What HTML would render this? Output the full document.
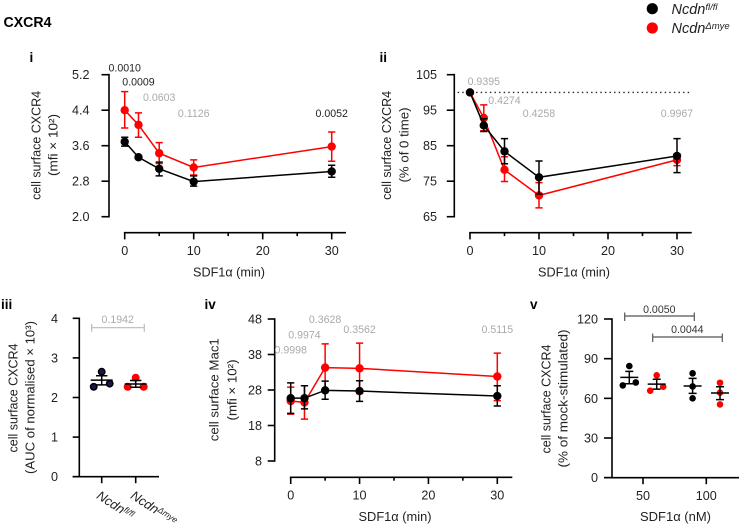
<!DOCTYPE html>
<html lang="en">
<head>
<meta charset="utf-8">
<title>CXCR4</title>
<style>
html,body{margin:0;padding:0;background:#fff;}
svg{display:block;font-family:"Liberation Sans",sans-serif;fill:#222;}
.t{font-size:13px;text-anchor:middle;}
.pl{font-size:13.5px;font-weight:bold;fill:#000;}
</style>
</head>
<body>
<svg id="fig" xmlns="http://www.w3.org/2000/svg" width="740" height="524" viewBox="0 0 740 524">
  <text x="3.5" y="27" font-size="14.5" font-weight="bold" fill="#000" textLength="48" lengthAdjust="spacingAndGlyphs">CXCR4</text>

  <g>
    <circle cx="652.3" cy="8.7" r="5.6" fill="#000"/>
    <text x="671.5" y="14" font-size="14.5" font-style="italic" fill="#222">Ncdn<tspan dy="-4" font-size="9.5">fl/fl</tspan></text>
    <circle cx="652.3" cy="28" r="5.6" fill="#f00"/>
    <text x="671.5" y="33" font-size="14.5" font-style="italic" fill="#222">Ncdn<tspan dy="-4" font-size="9.5">Δmye</tspan></text>
  </g>

  <text class="pl" x="29.5" y="62">i</text>
  <text class="pl" x="379.5" y="62">ii</text>
  <text class="pl" x="1" y="309">iii</text>
  <text class="pl" x="204.5" y="309">iv</text>
  <text class="pl" x="530" y="309">v</text>

  <text class="t" transform="translate(40.5,145.4) rotate(-90)" textLength="109" lengthAdjust="spacingAndGlyphs">cell surface CXCR4</text>
  <text class="t" transform="translate(57.5,145) rotate(-90)" textLength="62" lengthAdjust="spacingAndGlyphs">(mfi × 10²)</text>
  <text class="t" x="229" y="276.5" textLength="72" lengthAdjust="spacingAndGlyphs">SDF1α (min)</text>

  <text class="t" transform="translate(391,145.4) rotate(-90)" textLength="109" lengthAdjust="spacingAndGlyphs">cell surface CXCR4</text>
  <text class="t" transform="translate(408.5,145) rotate(-90)" textLength="75" lengthAdjust="spacingAndGlyphs">(% of 0 time)</text>
  <text class="t" x="574" y="276.5" textLength="72" lengthAdjust="spacingAndGlyphs">SDF1α (min)</text>

  <text class="t" transform="translate(17.5,398) rotate(-90)" textLength="109" lengthAdjust="spacingAndGlyphs">cell surface CXCR4</text>
  <text class="t" transform="translate(34.5,397.5) rotate(-90)" textLength="153" lengthAdjust="spacingAndGlyphs">(AUC of normalised × 10³)</text>

  <text class="t" transform="translate(218.5,389.7) rotate(-90)" textLength="103" lengthAdjust="spacingAndGlyphs">cell surface Mac1</text>
  <text class="t" transform="translate(236.5,390) rotate(-90)" textLength="61" lengthAdjust="spacingAndGlyphs">(mfi × 10²)</text>
  <text class="t" x="395" y="521" textLength="73" lengthAdjust="spacingAndGlyphs">SDF1α (min)</text>

  <text class="t" transform="translate(550.5,399) rotate(-90)" textLength="109" lengthAdjust="spacingAndGlyphs">cell surface CXCR4</text>
  <text class="t" transform="translate(567.5,398.5) rotate(-90)" textLength="138" lengthAdjust="spacingAndGlyphs">(% of mock-stimulated)</text>
  <text class="t" x="675.5" y="521" textLength="71" lengthAdjust="spacingAndGlyphs">SDF1α (nM)</text>
</svg>

<script>
// ---------- shared time axis ----------
const timesMin = [0, 2, 5, 10, 30];
const xMajorTicks = [0, 10, 20, 30];
const xMinorTicks = [5, 15, 25];

// ---------- panel i ----------
const iYTicks = ['5.2', '4.4', '3.6', '2.8', '2.0'];
const iControlMean = [3.69, 3.34, 3.08, 2.79, 3.02];
const iControlHigh = [3.79, 3.37, 3.23, 2.92, 3.16];
const iControlLow = [3.59, 3.31, 2.92, 2.69, 2.89];
const iKnockoutMean = [4.40, 4.07, 3.43, 3.11, 3.58];
const iKnockoutHigh = [4.82, 4.34, 3.67, 3.28, 3.91];
const iKnockoutLow = [4.00, 3.79, 3.20, 2.94, 3.25];
const iPValues = ['0.0010', '0.0009', '0.0603', '0.1126', '0.0052'];
const iPTimes = [0, 2, 5, 10, 30];
const iPLevels = [5.358, 5.042, 4.69, 4.33, 4.33];

// ---------- panel ii ----------
const iiYTicks = ['105', '95', '85', '75', '65'];
const iiControlMean = [100, 90.7, 83.4, 76.1, 82.1];
const iiControlHigh = [100, 92.6, 87, 80.7, 87];
const iiControlLow = [100, 89, 79.9, 71.4, 77.4];
const iiKnockoutMean = [100, 92.8, 78.2, 71, 81];
const iiKnockoutHigh = [100, 96.5, 81.9, 74.6, 82.7];
const iiKnockoutLow = [100, 89.2, 74.9, 67.5, 79.4];
const iiPValues = ['0.9395', '0.4274', '0.4258', '0.9967'];
const iiPTimes = [2, 5, 10, 30];
const iiPLevels = [103.2, 97.8, 94.2, 94.2];
const iiReference = 100;

// ---------- panel iii ----------
const iiiYTicks = ['4', '3', '2', '1', '0'];
const iiiCategories = ['fl/fl', 'Δmye'];
const iiiControlPoints = [2.65, 2.27, 2.35];
const iiiKnockoutPoints = [2.5, 2.27, 2.27];
const iiiMeans = [2.44, 2.34];
const iiiHighs = [2.55, 2.43];
const iiiLows = [2.32, 2.26];
const iiiP = '0.1942';

// ---------- panel iv ----------
const ivYTicks = ['48', '38', '28', '18', '8'];
const ivControlMean = [25.7, 25.7, 27.9, 27.7, 26.3];
const ivControlHigh = [30, 29.2, 30.5, 30.6, 29.2];
const ivControlLow = [21.4, 22.7, 25.4, 24.8, 23.5];
const ivKnockoutMean = [24.9, 24.5, 34.3, 34.1, 31.8];
const ivKnockoutHigh = [28.8, 29.2, 41, 41.2, 38.4];
const ivKnockoutLow = [21.2, 19.8, 28, 27, 25];
const ivPValues = ['0.9998', '0.9974', '0.3628', '0.3562', '0.5115'];
const ivPTimes = [0, 2, 5, 10, 30];
const ivPLevels = [39.4, 43.6, 47.9, 45.2, 45.2];

// ---------- panel v ----------
const vYTicks = ['120', '90', '60', '30', '0'];
const vDoses = [50, 100];
const vControlPoints = [[84.4, 69.8, 72], [78.9, 69, 60]];
const vKnockoutPoints = [[77.4, 65.8, 68.8], [71.8, 64.3, 55.4]];
const vControlMean = [75.9, 69.3];
const vControlHigh = [80.4, 75.1];
const vControlLow = [71, 63.8];
const vKnockoutMean = [70.8, 64];
const vKnockoutHigh = [74.4, 68.8];
const vKnockoutLow = [67, 59];
const vP = ['0.0050', '0.0044'];

// ---------- helpers ----------
const SVGNS = 'http://www.w3.org/2000/svg';
const fig = document.getElementById('fig');
const BLACK = '#000';
const RED = '#f00';
const GREY = '#aaa';
const AXIS_W = 1.6;
const TICK_FONT = 12.6;
const P_FONT = 10.6;

function make(tag, attrs, parent) {
  const e = document.createElementNS(SVGNS, tag);
  for (const k in attrs) e.setAttribute(k, attrs[k]);
  parent.appendChild(e);
  return e;
}
function linear(d0, d1, r0, r1) {
  return v => r0 + (v - d0) * (r1 - r0) / (d1 - d0);
}
function line(parent, x1, y1, x2, y2, stroke, w) {
  return make('line', {x1: x1, y1: y1, x2: x2, y2: y2, stroke: stroke, 'stroke-width': w}, parent);
}
function label(parent, x, y, str, anchor, size, color) {
  const t = make('text', {x: x, y: y, 'text-anchor': anchor, 'font-size': size, fill: color, dy: '.36em'}, parent);
  t.textContent = str;
  return t;
}
function panelGroup(name) {
  const g = make('g', {}, fig);
  
  
  return g;
}
function drawYAxis(g, panel, axisX, yScale, ticks, tickLen, labelEnd) {
  const vals = ticks.map(Number);
  const top = Math.max.apply(null, vals), bottom = Math.min.apply(null, vals);
  const ax = line(g, axisX, yScale(top) - 0.8, axisX, yScale(bottom) + 0.8, BLACK, AXIS_W);
  
  
  ticks.forEach(function (tk) {
    const y = yScale(Number(tk));
    const m = line(g, axisX - tickLen, y, axisX, y, BLACK, AXIS_W);
    
    
    const l = label(g, labelEnd, y, tk, 'end', TICK_FONT, '#222');
    
    
  });
}
function drawTimeAxis(g, panel, axisY, xScale, endX) {
  const ax = line(g, xScale(0) - 0.8, axisY, endX, axisY, BLACK, AXIS_W);
  
  
  xMajorTicks.forEach(function (v) {
    const m = line(g, xScale(v), axisY, xScale(v), axisY + 6.7, BLACK, AXIS_W);
    
    
    const l = label(g, xScale(v), axisY + 17.6, String(v), 'middle', TICK_FONT, '#222');
    
    
  });
  xMinorTicks.forEach(function (v) {
    const m = line(g, xScale(v), axisY, xScale(v), axisY + 3.4, BLACK, AXIS_W);
    
    
  });
}
function drawSeries(g, name, color, xScale, yScale, means, highs, lows) {
  const s = make('g', {}, g);
  
  
  const pts = timesMin.map((t, i) => xScale(t).toFixed(2) + ',' + yScale(means[i]).toFixed(2)).join(' ');
  const pl = make('polyline', {points: pts, fill: 'none', stroke: color, 'stroke-width': 1.5}, s);
  
  
  timesMin.forEach(function (t, i) {
    const x = xScale(t);
    const hi = yScale(highs[i]), lo = yScale(lows[i]);
    const eb = make('path', {
      d: 'M' + (x - 3.6) + ' ' + hi + 'H' + (x + 3.6) + 'M' + x + ' ' + hi + 'V' + lo + 'M' + (x - 3.6) + ' ' + lo + 'H' + (x + 3.6),
      fill: 'none', stroke: color, 'stroke-width': 1.5
    }, s);
    
    
    const c = make('circle', {cx: x, cy: yScale(means[i]), r: 4.2, fill: color}, s);
    
    
  });
}
function drawPValues(g, panel, xScale, yScale, values, times, levels) {
  values.forEach(function (p, i) {
    const color = Number(p) < 0.05 ? '#222' : GREY;
    const l = label(g, xScale(times[i]), yScale(levels[i]), p, 'middle', P_FONT, color);
    
    
  });
}
// dodge points that would overlap: lower left, upper right
function swarmOffsets(values, yScale, thresh, spread) {
  const idx = values.map((v, i) => i).sort((a, b) => values[a] - values[b]);
  const out = values.map(() => 0);
  for (let k = 0; k + 1 < idx.length; k++) {
    if (Math.abs(yScale(values[idx[k]]) - yScale(values[idx[k + 1]])) < thresh) {
      out[idx[k]] = -spread;
      out[idx[k + 1]] = spread;
      k++;
    }
  }
  return out;
}
function drawDotGroup(g, name, cx, yScale, points, mean, hi, lo, o) {
  const s = make('g', {}, g);
  
  
  const offs = swarmOffsets(points, yScale, 8, o.spread);
  points.forEach(function (v, i) {
    const c = make('circle', {cx: cx + offs[i], cy: yScale(v), r: o.r, fill: o.fill}, s);
    if (o.stroke) {
      c.setAttribute('stroke', o.stroke);
      c.setAttribute('stroke-width', 1.5);
    }
    
    
  });
  const m = line(s, cx - o.meanW, yScale(mean), cx + o.meanW, yScale(mean), BLACK, 1.5);
  
  
  const e = make('path', {
    d: 'M' + (cx - o.capW) + ' ' + yScale(hi) + 'H' + (cx + o.capW) + 'M' + cx + ' ' + yScale(hi) + 'V' + yScale(lo) + 'M' + (cx - o.capW) + ' ' + yScale(lo) + 'H' + (cx + o.capW),
    fill: 'none', stroke: BLACK, 'stroke-width': 1.5
  }, s);
  
  
}
function drawBracket(g, name, x1, x2, y, capUp, capDown, color, text, textX, textY, textColor) {
  const b = make('path', {
    d: 'M' + x1 + ' ' + (y - capUp) + 'V' + (y + capDown) + 'M' + x2 + ' ' + (y - capUp) + 'V' + (y + capDown) + 'M' + x1 + ' ' + y + 'H' + x2,
    fill: 'none', stroke: color, 'stroke-width': 1.2
  }, g);
  
  
  const l = label(g, textX, textY, text, 'middle', P_FONT, textColor);
  
  
}

// ---------- draw panel i ----------
(function () {
  const g = panelGroup('panel-i');
  const x = linear(0, 30, 124.7, 331.7);
  const y = linear(2, 5.2, 216.7, 74.7);
  drawYAxis(g, 'i', 109, y, iYTicks, 7.5, 89.5);
  drawTimeAxis(g, 'i', 232.7, x, 346);
  drawSeries(g, 'knockout-series-i', RED, x, y, iKnockoutMean, iKnockoutHigh, iKnockoutLow);
  drawSeries(g, 'control-series-i', BLACK, x, y, iControlMean, iControlHigh, iControlLow);
  drawPValues(g, 'i', x, y, iPValues, iPTimes, iPLevels);
})();

// ---------- draw panel ii ----------
(function () {
  const g = panelGroup('panel-ii');
  const x = linear(0, 30, 470, 677);
  const y = linear(65, 105, 216.7, 74.7);
  drawYAxis(g, 'ii', 454.3, y, iiYTicks, 7.5, 437);
  drawTimeAxis(g, 'ii', 232.7, x, 691.7);
  const ref = line(g, 457.7, y(iiReference), 691.7, y(iiReference), '#222', 1.3);
  ref.setAttribute('stroke-dasharray', '1.4 3.2');
  
  
  drawSeries(g, 'knockout-series-ii', RED, x, y, iiKnockoutMean, iiKnockoutHigh, iiKnockoutLow);
  drawSeries(g, 'control-series-ii', BLACK, x, y, iiControlMean, iiControlHigh, iiControlLow);
  drawPValues(g, 'ii', x, y, iiPValues, iiPTimes, iiPLevels);
})();

// ---------- draw panel iii ----------
(function () {
  const g = panelGroup('panel-iii');
  const y = linear(0, 4, 476.7, 318.3);
  const centers = [101.7, 135.7];
  drawYAxis(g, 'iii', 79.3, y, iiiYTicks, 6.6, 58);
  const ax = line(g, 72.7, y(0), 159, y(0), BLACK, AXIS_W);
  
  
  iiiCategories.forEach(function (cat, i) {
    const m = line(g, centers[i], y(0), centers[i], y(0) + 6.5, BLACK, AXIS_W);
    
    
    const t = make('text', {
      x: 0, y: 0, 'font-size': 13, 'font-style': 'italic', fill: '#222',
      transform: 'translate(' + (centers[i] - 6) + ',' + (y(0) + 21) + ') rotate(33)'
    }, g);
    
    
    t.textContent = 'Ncdn';
    const sup = make('tspan', {dy: -3.5, 'font-size': 8.5}, t);
    sup.textContent = cat;
  });
  drawDotGroup(g, 'control-group-iii', centers[0], y, iiiControlPoints, iiiMeans[0], iiiHighs[0], iiiLows[0],
    {spread: 8, r: 3.2, fill: '#22124f', stroke: '#000', meanW: 11, capW: 5.7});
  drawDotGroup(g, 'knockout-group-iii', centers[1], y, iiiKnockoutPoints, iiiMeans[1], iiiHighs[1], iiiLows[1],
    {spread: 8, r: 4, fill: RED, meanW: 11, capW: 5.7});
  drawBracket(g, 'significance-bracket-iii', 91.7, 144.3, 327.7, 4, 4, '#bbb', iiiP, 117.7, 319, GREY);
})();

// ---------- draw panel iv ----------
(function () {
  const g = panelGroup('panel-iv');
  const x = linear(0, 30, 290.7, 497.3);
  const y = linear(8, 48, 461, 319);
  drawYAxis(g, 'iv', 274.7, y, ivYTicks, 7, 262);
  drawTimeAxis(g, 'iv', 477.3, x, 512.3);
  drawSeries(g, 'knockout-series-iv', RED, x, y, ivKnockoutMean, ivKnockoutHigh, ivKnockoutLow);
  drawSeries(g, 'control-series-iv', BLACK, x, y, ivControlMean, ivControlHigh, ivControlLow);
  drawPValues(g, 'iv', x, y, ivPValues, ivPTimes, ivPLevels);
})();

// ---------- draw panel v ----------
(function () {
  const g = panelGroup('panel-v');
  const dose = linear(50, 100, 643, 706.3);
  const y = linear(0, 120, 477.7, 319);
  drawYAxis(g, 'v', 612, y, vYTicks, 8, 598);
  const ax = line(g, 604, y(0), 739, y(0), BLACK, AXIS_W);
  
  
  vDoses.forEach(function (d, i) {
    const m = line(g, dose(d), y(0), dose(d), y(0) + 6.5, BLACK, AXIS_W);
    
    
    const l = label(g, dose(d), y(0) + 17.8, String(d), 'middle', TICK_FONT, '#222');
    
    
    drawDotGroup(g, 'control-group-v-' + d, dose(d) - 13.7, y, vControlPoints[i], vControlMean[i], vControlHigh[i], vControlLow[i],
      {spread: 6.5, r: 3.3, fill: BLACK, meanW: 9, capW: 4});
    drawDotGroup(g, 'knockout-group-v-' + d, dose(d) + 13.7, y, vKnockoutPoints[i], vKnockoutMean[i], vKnockoutHigh[i], vKnockoutLow[i],
      {spread: 6.5, r: 3.3, fill: RED, meanW: 9, capW: 4});
  });
  drawBracket(g, 'significance-bracket-v-1', 624.7, 694.3, 316, 3.5, 5, '#555', vP[0], 659.3, 309.3, '#333');
  drawBracket(g, 'significance-bracket-v-2', 652.7, 722.3, 337, 3.5, 5, '#555', vP[1], 687.3, 329.3, '#333');
})();
</script>
</body>
</html>
